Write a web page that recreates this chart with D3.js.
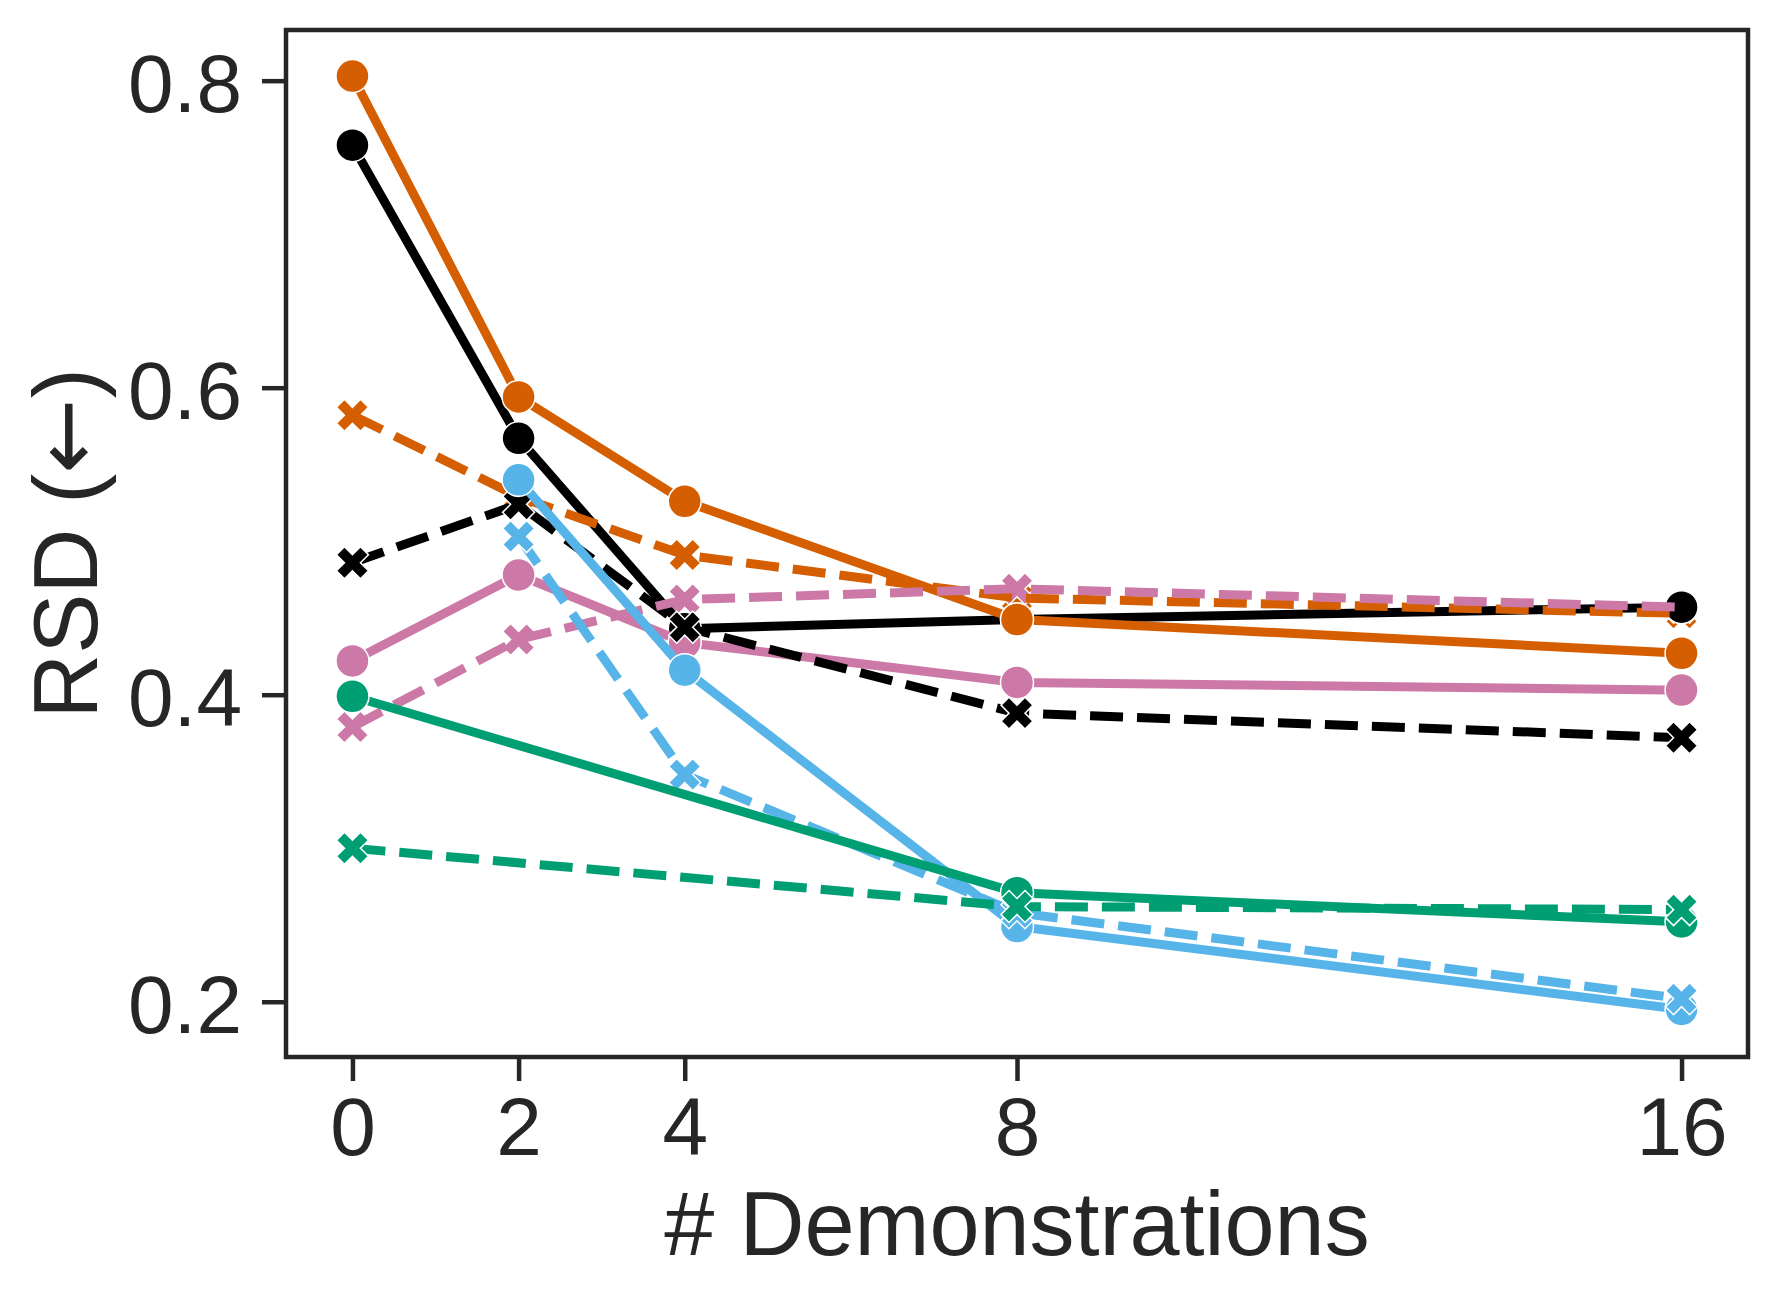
<!DOCTYPE html>
<meta charset="utf-8">
<style>
  body { margin: 0; background: #fff; }
  svg { display: block; }
  .tick text, .axis-label {
    font-family: "Liberation Sans", Arial, sans-serif;
    fill: #262626;
  }
  .tick text { font-size: 82px; }
  .axis-label { font-size: 90px; }
  .arrow { font-family: "DejaVu Sans", sans-serif; }
  .tick line { stroke: #262626; stroke-width: 4.5; }
</style>
<body>
<svg width="1777" height="1301"></svg>
<script src="https://cdnjs.cloudflare.com/ajax/libs/d3/7.8.5/d3.min.js"></script>
<script>

// # demonstrations on the x axis
var shots = [0, 2, 4, 8, 16];

// RSD values, null where a series has no point
var blackSolid   = [0.758, 0.567, 0.443, 0.449, 0.457];
var blackDashed  = [0.486, 0.524, 0.444, 0.388, 0.372];
var orangeSolid  = [0.803, 0.594, 0.526, 0.449, 0.427];
var orangeDashed = [0.582, 0.529, 0.491, 0.463, 0.453];
var pinkSolid    = [0.422, 0.478, 0.434, 0.408, 0.403];
var pinkDashed   = [0.379, 0.436, 0.462, 0.469, 0.457];
var blueSolid    = [null, 0.540, 0.416, 0.249, 0.195];
var blueDashed   = [null, 0.503, 0.348, 0.258, 0.202];
var greenSolid   = [0.399, null, null, 0.271, 0.252];
var greenDashed  = [0.300, null, null, 0.262, 0.260];

var xTicks = [0, 2, 4, 8, 16];
var yTicks = [0.2, 0.4, 0.6, 0.8];

var S = {
  blackSolid:   {values: blackSolid,   color: "#000000", dashed: false},
  blackDashed:  {values: blackDashed,  color: "#000000", dashed: true},
  orangeSolid:  {values: orangeSolid,  color: "#D55E00", dashed: false},
  orangeDashed: {values: orangeDashed, color: "#D55E00", dashed: true},
  pinkSolid:    {values: pinkSolid,    color: "#CC79A7", dashed: false},
  pinkDashed:   {values: pinkDashed,   color: "#CC79A7", dashed: true},
  blueSolid:    {values: blueSolid,    color: "#56B4E9", dashed: false},
  blueDashed:   {values: blueDashed,   color: "#56B4E9", dashed: true},
  greenSolid:   {values: greenSolid,   color: "#009E73", dashed: false},
  greenDashed:  {values: greenDashed,  color: "#009E73", dashed: true}
};

// stacking as seen in the picture, bottom first
var layers = [
  ["orangeDashed", "marks"], ["pinkDashed", "marks"],
  ["blackSolid", "line"], ["blackSolid", "marks"],
  ["orangeDashed", "line"],
  ["orangeSolid", "line"], ["orangeSolid", "marks"],
  ["pinkSolid", "line"], ["pinkSolid", "marks"],
  ["blackDashed", "line"], ["blackDashed", "marks"],
  ["pinkDashed", "line"],
  ["blueSolid", "line"], ["blueSolid", "marks"],
  ["blueDashed", "line"], ["blueDashed", "marks"],
  ["greenSolid", "line"], ["greenSolid", "marks"],
  ["greenDashed", "line"], ["greenDashed", "marks"]
];

var svg = d3.select("svg");
var margin = {top: 30, right: 29, bottom: 244, left: 286};
var W = +svg.attr("width"), H = +svg.attr("height");

var x = d3.scaleLinear()
    .domain([-0.8, 16.8])
    .range([margin.left, W - margin.right]);

var y = d3.scaleLinear()
    .domain([0.164, 0.833])
    .range([H - margin.bottom, margin.top]);

// axes
var xAxis = svg.append("g")
    .attr("transform", "translate(0," + (H - margin.bottom) + ")")
    .call(d3.axisBottom(x).tickValues(xTicks).tickSize(24).tickPadding(16).tickFormat(d3.format("d")));
xAxis.select(".domain").remove();

var yAxis = svg.append("g")
    .attr("transform", "translate(" + margin.left + ",0)")
    .call(d3.axisLeft(y).tickValues(yTicks).tickSize(24).tickPadding(20).tickFormat(d3.format(".1f")));
yAxis.select(".domain").remove();
yAxis.selectAll(".tick text").attr("dy", "0.38em");

var line = d3.line()
    .x(function(d) { return x(d.x); })
    .y(function(d) { return y(d.y); });

// filled "X" marker like matplotlib's
function xMarker(s) {
  var p = [[0.25,0],[0.5,0.25],[0.75,0],[1,0.25],[0.75,0.5],[1,0.75],
           [0.75,1],[0.5,0.75],[0.25,1],[0,0.75],[0.25,0.5],[0,0.25]];
  return "M" + p.map(function(q) { return [(q[0]-0.5)*s, (q[1]-0.5)*s].join(","); }).join("L") + "Z";
}

function points(s) {
  return shots.map(function(v, i) { return {x: v, y: s.values[i]}; })
      .filter(function(d) { return d.y !== null; });
}

var plot = svg.append("g");

layers.forEach(function(l) {
  var s = S[l[0]], pts = points(s);
  var g = plot.append("g");

  if (l[1] === "line") {
    g.append("path")
        .datum(pts)
        .attr("d", line)
        .attr("fill", "none")
        .attr("stroke", s.color)
        .attr("stroke-width", 9)
        .attr("stroke-linejoin", "round")
        .attr("stroke-linecap", s.dashed ? "butt" : "square")
        .attr("stroke-dasharray", s.dashed ? "33,14" : null);
  } else if (s.dashed) {
    g.selectAll("path")
        .data(pts)
      .enter().append("path")
        .attr("d", xMarker(32))
        .attr("transform", function(d) { return "translate(" + x(d.x) + "," + y(d.y) + ")"; })
        .attr("fill", s.color)
        .attr("stroke", "#fff")
        .attr("stroke-width", 1.5);
  } else {
    g.selectAll("circle")
        .data(pts)
      .enter().append("circle")
        .attr("cx", function(d) { return x(d.x); })
        .attr("cy", function(d) { return y(d.y); })
        .attr("r", 16.5)
        .attr("fill", s.color)
        .attr("stroke", "#fff")
        .attr("stroke-width", 1.5);
  }
});

// frame
svg.append("rect")
    .attr("x", margin.left)
    .attr("y", margin.top)
    .attr("width", W - margin.left - margin.right)
    .attr("height", H - margin.top - margin.bottom)
    .attr("fill", "none")
    .attr("stroke", "#262626")
    .attr("stroke-width", 4.5);

// axis labels
svg.append("text")
    .attr("class", "axis-label")
    .attr("x", (margin.left + W - margin.right) / 2)
    .attr("y", 1255)
    .attr("text-anchor", "middle")
    .text("# Demonstrations");

var yl = svg.append("text")
    .attr("class", "axis-label")
    .attr("transform", "translate(97," + ((margin.top + H - margin.bottom) / 2) + ") rotate(-90)")
    .attr("text-anchor", "middle");
yl.append("tspan").text("RSD (");
yl.append("tspan").attr("class", "arrow").text("←");
yl.append("tspan").text(")");

</script>
</body>
